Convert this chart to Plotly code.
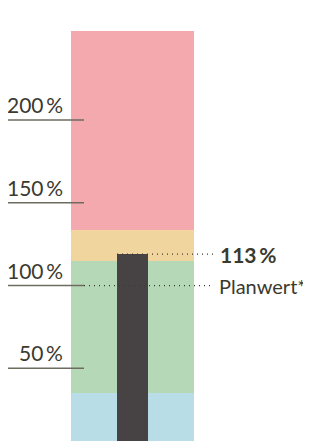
import plotly.graph_objects as go

# Data
band_bounds = [0, 35, 115, 133.5, 254]          # % boundaries of the background bands
band_colors = ["#b8dde6", "#b5d8b7", "#f0d59e", "#f4a9ae"]
ist_value = 119                                  # visual height of the dark bar (%)
ist_label = "113\u2009%"
plan_value = 100
plan_label = "Planwert*"
tick_values = [50, 100, 150, 200]
tick_labels = ["50\u2009%", "100\u2009%", "150\u2009%", "200\u2009%"]

W, H = 303, 433   # page body has an 8px margin
TXT = "#3b3a2f"
FONT = "Lato"

fig = go.Figure()
for lo, hi, col in zip(band_bounds[:-1], band_bounds[1:], band_colors):
    fig.add_trace(go.Bar(x=[0], y=[hi - lo], base=[lo], width=1.0,
                         marker=dict(color=col, line=dict(width=0)),
                         hoverinfo="skip", showlegend=False))
fig.add_trace(go.Bar(x=[0], y=[ist_value], base=[0], width=0.26,
                     marker=dict(color="#474344", line=dict(width=0)),
                     hoverinfo="skip", showlegend=False))

shapes = []
annotations = []
for v, t in zip(tick_values, tick_labels):
    shapes.append(dict(type="line", xref="paper", yref="y", x0=0, x1=76 / W,
                       y0=v, y1=v, line=dict(color="#6e6b5f", width=1.5)))
    annotations.append(dict(text=t, xref="paper", yref="y", x=57 / W, y=v,
                            xanchor="right", yanchor="bottom", yshift=1, showarrow=False,
                            font=dict(family=FONT, size=21, color=TXT, weight=400)))

# dotted leader lines
shapes.append(dict(type="line", xref="paper", yref="y", x0=76 / W, x1=205 / W,
                   y0=plan_value, y1=plan_value,
                   line=dict(color=TXT, width=1.2, dash="1px,4px")))
shapes.append(dict(type="line", xref="paper", yref="y", x0=109 / W, x1=205 / W,
                   y0=ist_value, y1=ist_value,
                   line=dict(color=TXT, width=1.2, dash="1px,4px")))

annotations.append(dict(text="<b>" + ist_label + "</b>", xref="paper", yref="y",
                        x=210 / W, y=ist_value, xanchor="left", yanchor="middle",
                        showarrow=False, font=dict(family=FONT, size=21, color=TXT)))
annotations.append(dict(text=plan_label, xref="paper", yref="y",
                        x=209 / W, y=plan_value, xanchor="left", yanchor="middle",
                        showarrow=False, font=dict(family=FONT, size=20, color=TXT, weight=400)))

fig.update_layout(
    width=W, height=H, margin=dict(l=0, r=0, t=0, b=0),
    paper_bgcolor="white", plot_bgcolor="white",
    barmode="overlay", bargap=0,
    xaxis=dict(range=[-1.012, 1.451], visible=False, fixedrange=True),
    yaxis=dict(range=[6.1, 267.7], visible=False, fixedrange=True),
    shapes=shapes, annotations=annotations,
)
fig.write_html("out.html")
